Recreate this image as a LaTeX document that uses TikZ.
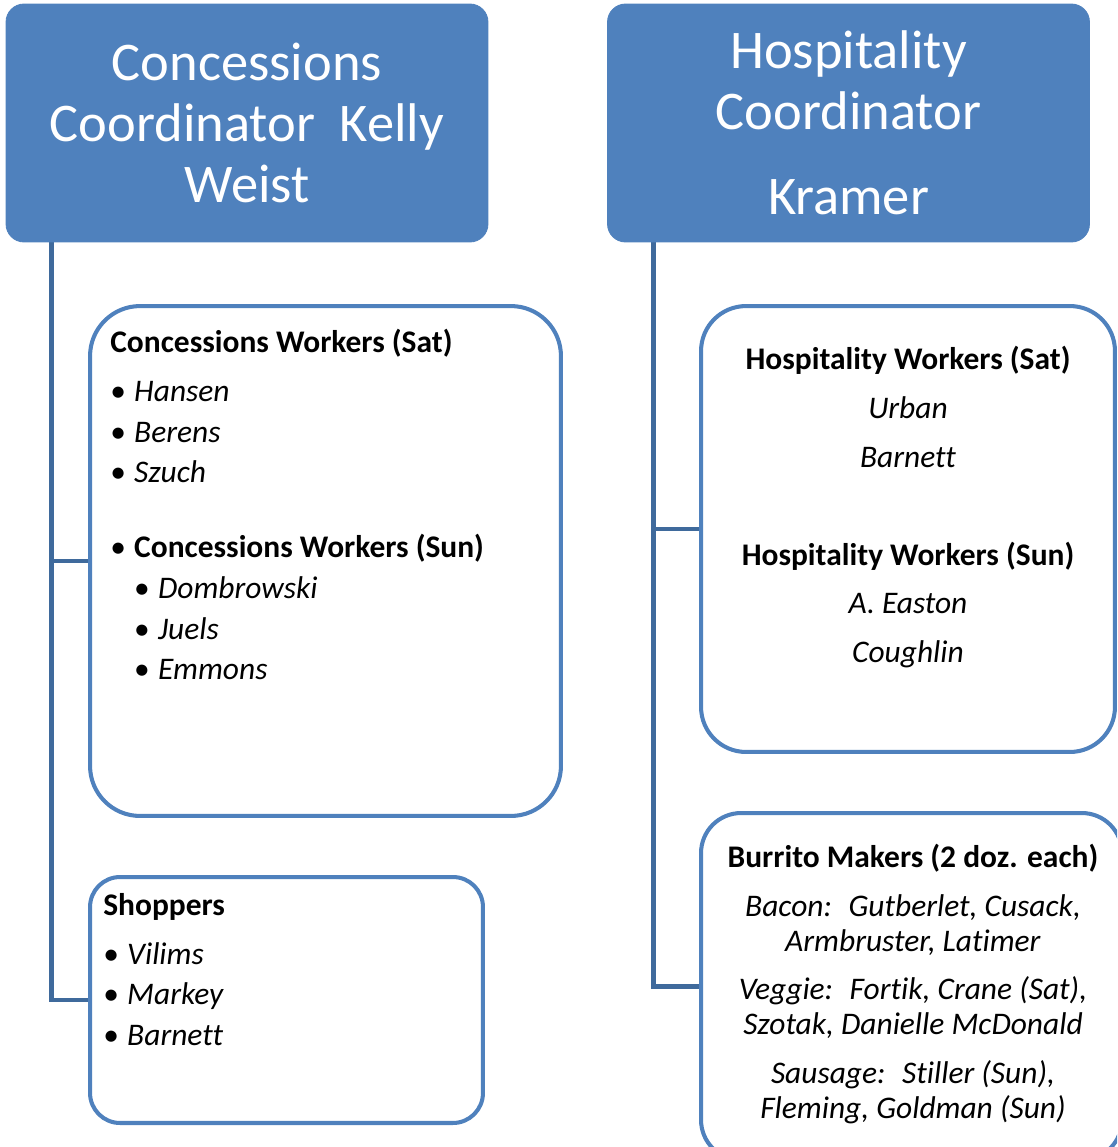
\documentclass[tikz,border=0pt]{standalone}
\usepackage{fontspec}
\setmainfont{Carlito}[Ligatures=NoCommon]
\usetikzlibrary{positioning,backgrounds}

\definecolor{boxblue}{HTML}{4F81BD}
\definecolor{lineblue}{HTML}{3F6A9C}

\tikzset{
  coordbox/.style={draw=boxblue, fill=boxblue, rounded corners=0.36cm, line width=0.5pt,
    minimum width=9.64cm, minimum height=4.76cm, text=white, align=center,
    font=\fontsize{31}{34.6}\selectfont},
  workbox/.style={draw=boxblue, fill=white, line width=2.3pt},
  conn/.style={draw=lineblue, line width=2.8pt},
  body/.style={font=\fontsize{17.9}{23.2}\selectfont, inner sep=0pt}
}
\newcommand{\bul}{\makebox[13.6pt][l]{\textbullet}}

\begin{document}
\begin{tikzpicture}[x=0.02cm,y=-0.02cm]
  \clip (0,0) rectangle (1117,1147);

  % coordinators
  \node[coordbox] (cc) at (247,123) {Concessions\\Coordinator~ Kelly\\Weist};
  \node[coordbox] (hc) at (848.5,123) {Hospitality\\Coordinator\\[13.6pt]Kramer};

  % worker boxes
  \node[workbox, rounded corners=1cm, minimum width=9.42cm, minimum height=10.2cm] (cw) at (325.5,561) {};
  \node[workbox, rounded corners=0.6cm, minimum width=7.86cm, minimum height=4.92cm] (shop) at (286.5,1000) {};
  \node[workbox, rounded corners=0.9cm, minimum width=8.28cm, minimum height=8.92cm] (hw) at (908,529) {};
  \node[workbox, rounded corners=0.8cm, minimum width=8.42cm, minimum height=6.94cm] (bm) at (911.5,986.5) {};

  % texts
  \node[body, anchor=north west, align=left] (cwtext) at (110,329)
    {\textbf{Concessions Workers (Sat)}\\[4.5pt]
     \bul\textit{Hansen}\\ \bul\textit{Berens}\\ \bul\textit{Szuch}\\[19.3pt]
     \bul\textbf{Concessions Workers (Sun)}\\
     \hspace*{13.6pt}\bul\textit{Dombrowski}\\
     \hspace*{13.6pt}\bul\textit{Juels}\\
     \hspace*{13.6pt}\bul\textit{Emmons}};
  \node[body, anchor=north west, align=left] (shoptext) at (103,893)
    {\textbf{Shoppers}\\[4.5pt]
     \bul\textit{Vilims}\\ \bul\textit{Markey}\\ \bul\textit{Barnett}};
  \node[body, anchor=north, align=center, font=\fontsize{17.9}{27.8}\selectfont] (hwtext) at (908,346)
    {\textbf{Hospitality Workers (Sat)}\\ \textit{Urban}\\ \textit{Barnett}\\[27.8pt]
     \textbf{Hospitality Workers (Sun)}\\ \textit{A. Easton}\\ \textit{Coughlin}};
  \node[body, anchor=north, align=center, font=\fontsize{17.9}{19.8}\selectfont] (bmtext) at (913,844)
    {\textbf{Burrito Makers (2 doz. each)}\\[7.9pt]
     \textit{Bacon:~ Gutberlet, Cusack,}\\ \textit{Armbruster, Latimer}\\[7.9pt]
     \textit{Veggie:~ Fortik, Crane (Sat),}\\ \textit{Szotak, Danielle McDonald}\\[7.9pt]
     \textit{Sausage:~ Stiller (Sun),}\\ \textit{Fleming, Goldman (Sun)}};

  % connectors
  \begin{scope}[on background layer]
    \coordinate (ltrunk) at ([xshift=0.92cm]cc.south west);
    \coordinate (rtrunk) at ([xshift=0.92cm]hc.south west);
    \draw[conn] (ltrunk) |- (cw.west);
    \draw[conn] (ltrunk) |- (shop.west);
    \draw[conn] (rtrunk) |- (hw.west);
    \draw[conn] (rtrunk) |- (bm.west);
  \end{scope}
\end{tikzpicture}
\end{document}
